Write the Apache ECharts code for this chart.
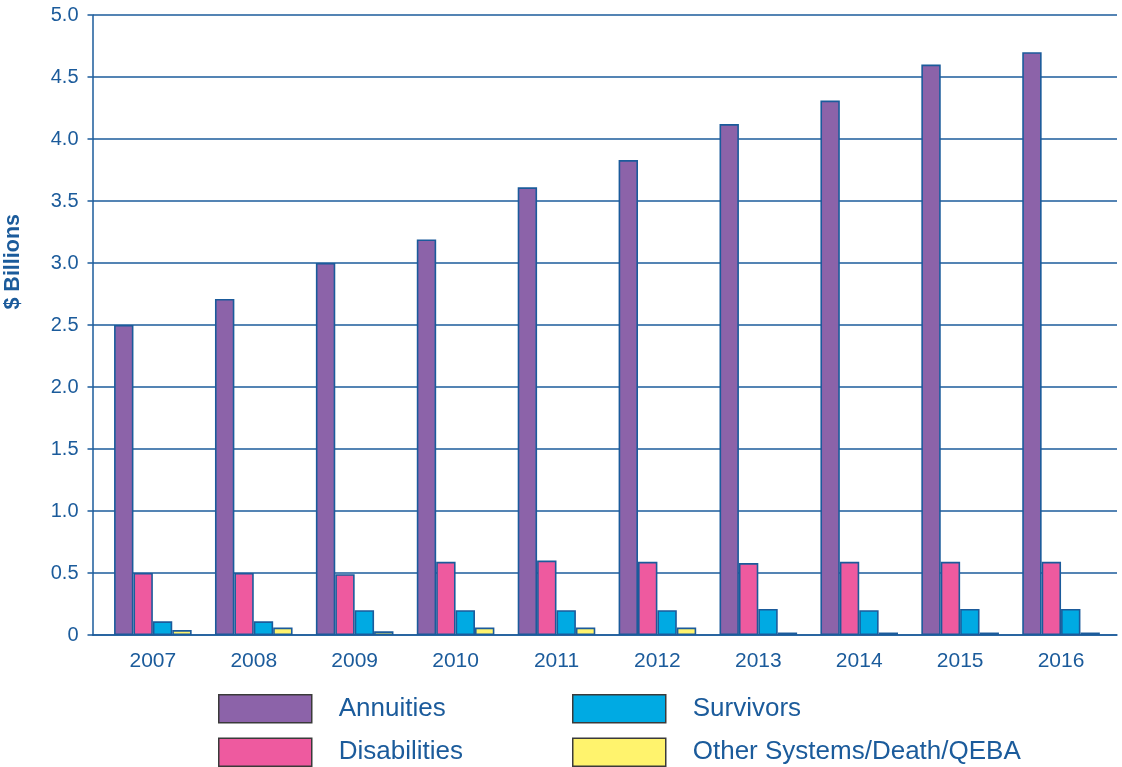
<!DOCTYPE html>
<html>
<head>
<meta charset="utf-8">
<script src="https://cdn.jsdelivr.net/npm/echarts@6/dist/echarts.min.js"></script>
<style>
html,body{margin:0;padding:0;background:#fff;}
#chart{width:1122px;height:767px;}
</style>
</head>
<body>
<div id="chart"></div>
<script>
const years = ['2007','2008','2009','2010','2011','2012','2013','2014','2015','2016'];
const annuities = [2.5, 2.71, 3.0, 3.19, 3.61, 3.83, 4.12, 4.31, 4.6, 4.7];
const disabilities = [0.5, 0.5, 0.49, 0.59, 0.6, 0.59, 0.58, 0.59, 0.59, 0.59];
const survivors = [0.11, 0.11, 0.2, 0.2, 0.2, 0.2, 0.21, 0.2, 0.21, 0.21];
const otherSystems = [0.04, 0.06, 0.03, 0.06, 0.06, 0.06, 0.02, 0.02, 0.02, 0.02];
const yTicks = { min: 0, max: 5, interval: 0.5 };

const blue = '#1b5b9b';
const font = '"Liberation Sans", Arial, sans-serif';
const chart = echarts.init(document.getElementById('chart'), null, { renderer: 'canvas' });

function bar(name, data, color) {
  return {
    name: name, type: 'bar', xAxisIndex: 1, yAxisIndex: 1,
    data: data, barWidth: 19.4, barGap: '0%',
    itemStyle: { color: color, borderColor: blue, borderWidth: 1.6 },
    emphasis: { disabled: true }
  };
}

const legendCommon = {
  orient: 'vertical', icon: 'rect', itemWidth: 93, itemHeight: 28, itemGap: 14,
  padding: 0, selectedMode: false,
  itemStyle: { borderColor: '#3a3a3a', borderWidth: 1.5 },
  textStyle: { fontFamily: font, fontSize: 26, color: blue, padding: [2, 0, 0, 22] }
};

chart.setOption({
  backgroundColor: '#fff',
  animation: false,
  grid: [
    { left: 92.5, right: 5, top: 15, bottom: 132 },
    { left: 102.4, right: 10.5, top: 15, bottom: 132 }
  ],
  xAxis: [
    { type: 'value', gridIndex: 0, min: 0, max: 1,
      axisLine: { show: true, lineStyle: { color: blue, width: 1.5 } },
      axisTick: { show: false }, axisLabel: { show: false }, splitLine: { show: false } },
    { type: 'category', gridIndex: 1, data: years,
      axisLine: { show: false }, axisTick: { show: false },
      axisLabel: { fontFamily: font, fontSize: 21, color: blue, margin: 16 } }
  ],
  yAxis: [
    { type: 'value', gridIndex: 0, min: yTicks.min, max: yTicks.max, interval: yTicks.interval,
      axisLine: { show: true, lineStyle: { color: blue, width: 1.5 } },
      axisTick: { show: true, length: 5, lineStyle: { color: blue, width: 1.5 } },
      splitLine: { show: true, lineStyle: { color: blue, width: 1.5 } },
      axisLabel: { fontFamily: font, fontSize: 20, color: blue, margin: 14,
        formatter: v => v === 0 ? '0' : v.toFixed(1) } },
    { type: 'value', gridIndex: 1, min: yTicks.min, max: yTicks.max, interval: yTicks.interval,
      show: false }
  ],
  legend: [
    Object.assign({ left: 218, top: 694, data: ['Annuities', 'Disabilities'] }, legendCommon),
    Object.assign({ left: 572, top: 694, data: ['Survivors', 'Other Systems/Death/QEBA'] }, legendCommon)
  ],
  graphic: [
    { type: 'text', left: 2, top: 214, rotation: Math.PI / 2,
      style: { text: '$ Billions', fontFamily: font, fontSize: 21.5, fontWeight: 'bold', fill: blue } }
  ],
  series: [
    bar('Annuities', annuities, '#8c63a9'),
    bar('Disabilities', disabilities, '#ee5a9f'),
    bar('Survivors', survivors, '#00aae3'),
    bar('Other Systems/Death/QEBA', otherSystems, '#fff36d')
  ]
});
</script>
</body>
</html>
